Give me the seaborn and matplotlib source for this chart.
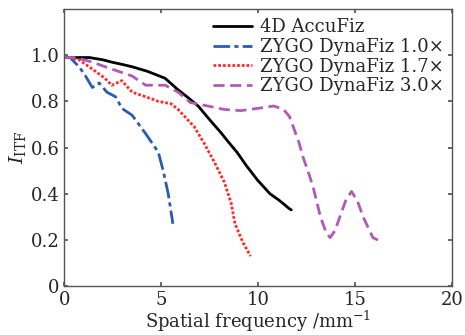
import pandas as pd
import matplotlib
matplotlib.use('Agg')
import matplotlib.pyplot as plt
import seaborn as sns

# values
accufiz_x = [0, 0.6, 1.3, 2.0, 2.45, 3.0, 3.5, 4.3, 5.2, 5.87, 6.4, 6.9, 7.5, 8.07, 8.5, 8.9, 9.4, 9.95, 10.6, 11.1, 11.6, 11.7]
accufiz_y = [0.99, 0.99, 0.99, 0.98, 0.97, 0.96, 0.95, 0.93, 0.90, 0.85, 0.815, 0.78, 0.72, 0.665, 0.62, 0.58, 0.52, 0.46, 0.40, 0.37, 0.335, 0.33]

dyna10_x = [0, 0.3, 0.77, 1.1, 1.45, 1.8, 2.2, 2.65, 2.97, 3.5, 4.2, 4.85, 5.1, 5.36, 5.6]
dyna10_y = [0.99, 0.99, 0.95, 0.91, 0.86, 0.88, 0.84, 0.82, 0.77, 0.74, 0.66, 0.58, 0.50, 0.40, 0.27]

dyna17_x = [0, 0.3, 0.77, 1.45, 2.1, 2.45, 2.97, 3.5, 4.2, 4.85, 5.5, 5.87, 6.7, 7.2, 7.75, 8.25, 8.6, 8.8, 9.2, 9.6]
dyna17_y = [0.99, 0.99, 0.98, 0.94, 0.90, 0.87, 0.89, 0.84, 0.82, 0.80, 0.79, 0.765, 0.69, 0.62, 0.535, 0.45, 0.36, 0.27, 0.19, 0.13]

dyna30_x = [0, 0.6, 1.45, 2.45, 3.5, 4.2, 5.2, 5.87, 6.5, 7.4, 8.25, 9.1, 10.0, 10.8, 11.3, 11.6, 11.8, 12.1, 12.3, 12.65, 12.85, 13.2, 13.5, 13.7, 13.95, 14.2, 14.5, 14.8, 15.1, 15.4, 15.9, 16.4]
dyna30_y = [0.99, 0.99, 0.97, 0.94, 0.91, 0.87, 0.87, 0.84, 0.795, 0.78, 0.765, 0.76, 0.77, 0.78, 0.765, 0.735, 0.69, 0.62, 0.56, 0.475, 0.42, 0.30, 0.23, 0.21, 0.24, 0.30, 0.37, 0.41, 0.37, 0.30, 0.21, 0.19]

labels = ['4D AccuFiz', 'ZYGO DynaFiz 1.0×', 'ZYGO DynaFiz 1.7×', 'ZYGO DynaFiz 3.0×']
series = [(accufiz_x, accufiz_y), (dyna10_x, dyna10_y), (dyna17_x, dyna17_y), (dyna30_x, dyna30_y)]

frames = []
for name, (xs, ys) in zip(labels, series):
    frames.append(pd.DataFrame({'freq': xs, 'itf': ys, 'name': name}))
df = pd.concat(frames, ignore_index=True)

sns.set_theme(style='ticks')
plt.rcParams['font.family'] = ['DejaVu Serif']
plt.rcParams['mathtext.fontset'] = 'dejavuserif'

fig = plt.figure(figsize=(4.65, 3.35), dpi=100)
ax = fig.add_axes([0.138, 0.146, 0.835, 0.827])

colors = ['black', '#2a5db0', '#ff2a2a', '#b05ab5']
styles = [(None, None), (6, 1.5, 1.5, 1.5), (1, 0.7), (4, 2)]
for name, c, d in zip(labels, colors, styles):
    sub = df[df['name'] == name]
    sns.lineplot(data=sub, x='freq', y='itf', ax=ax, color=c, lw=2,
                 label=name, sort=False, estimator=None)
    if d[0] is not None:
        ax.lines[-1].set_dashes(d)

ax.set_xlim(0, 20)
ax.set_ylim(0, 1.2)
ax.set_xticks([0, 5, 10, 15, 20])
ax.set_xticklabels(['0', '5', '10', '15', '20'])
ax.set_yticks([0, 0.2, 0.4, 0.6, 0.8, 1.0])
ax.set_yticklabels(['0', '0.2', '0.4', '0.6', '0.8', '1.0'])
ax.tick_params(direction='in', top=True, right=True, labelsize=13, length=3, color='#555555')
for s in ax.spines.values():
    s.set_color('#555555')
    s.set_linewidth(1)

ax.set_xlabel('Spatial frequency /mm$^{-1}$', fontsize=13, labelpad=0)
ax.set_ylabel('$I_{\\mathrm{ITF}}$', fontsize=14, labelpad=2)

ax.legend(loc='upper right', frameon=False, fontsize=13, handlelength=2.2,
          labelspacing=0.1, borderaxespad=0.1, handletextpad=0.4)

fig.savefig('out.png', dpi=100)
